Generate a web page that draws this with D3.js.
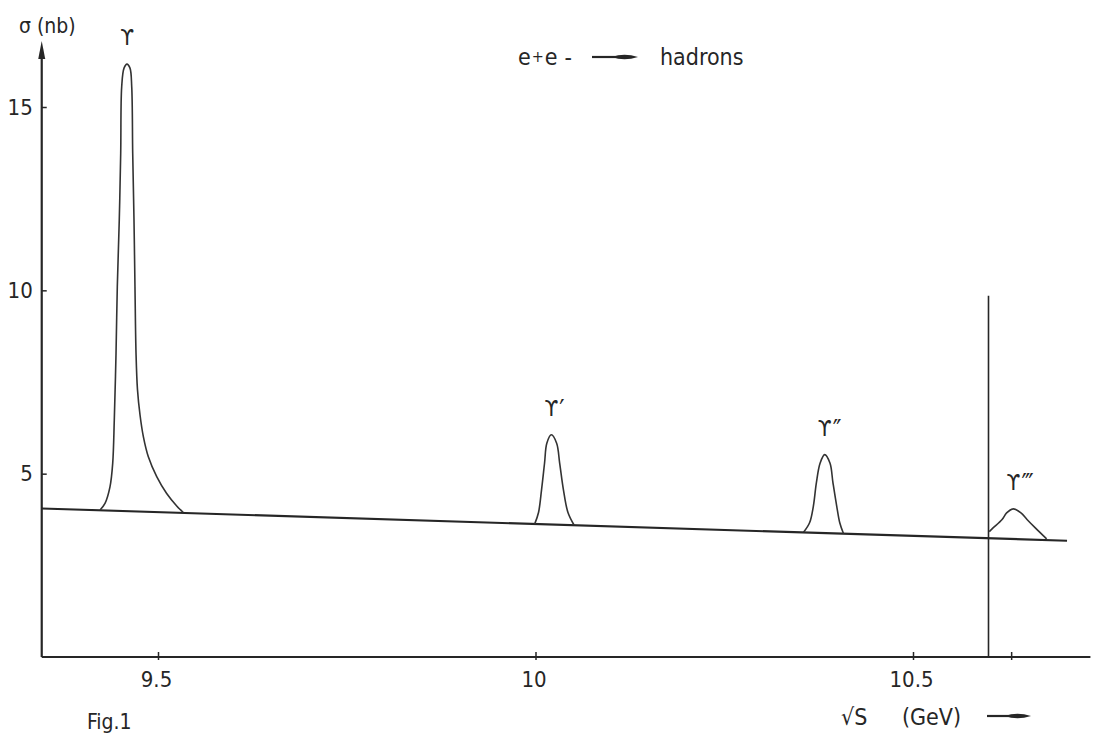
<!DOCTYPE html>
<html>
<head>
<meta charset="utf-8">
<script src="https://cdn.jsdelivr.net/npm/d3@7"></script>
<style>
  body { margin: 0; background: #fff; }
  svg text { font-family: "DejaVu Sans Condensed", "DejaVu Sans", sans-serif; font-stretch: condensed; fill: #262626; }
</style>
</head>
<body>
<div id="chart"></div>
<script>
// energy sqrt(s) in GeV, cross section in nb
var xTicks = [9.5, 10, 10.5, 10.63];
var xTickLabels = ["9.5", "10", "10.5", ""];
var yTicks = [5, 10, 15];

var axisStartE = 9.346, axisEndE = 10.735, axisTopSigma = 16.8;

// non-resonant continuum (straight line)
var continuum = [[9.346, 4.05], [10.704, 3.17]];

// resonance curves [E, sigma]
var upsilon1S = [[9.4232, 4.01], [9.4298, 4.19], [9.4364, 4.64], [9.4400, 5.28], [9.4421, 6.46],
  [9.4444, 8.28], [9.4461, 10.10], [9.4487, 11.92], [9.4506, 13.74], [9.4519, 15.55],
  [9.4550, 16.06], [9.4589, 16.17], [9.4629, 16.06], [9.4652, 15.55], [9.4665, 13.74],
  [9.4682, 11.92], [9.4695, 10.10], [9.4709, 8.28], [9.4728, 7.30], [9.4762, 6.60],
  [9.4806, 6.01], [9.4872, 5.46], [9.4983, 4.92], [9.5115, 4.46], [9.5248, 4.12], [9.5335, 3.94]];
var upsilon2S = [[9.999, 3.63], [10.004, 3.94], [10.008, 4.56], [10.012, 5.29], [10.015, 5.83],
  [10.021, 6.06], [10.028, 5.83], [10.032, 5.29], [10.037, 4.56], [10.043, 3.94], [10.051, 3.60]];
var upsilon3S = [[10.355, 3.40], [10.363, 3.66], [10.368, 4.11], [10.372, 4.75], [10.377, 5.29],
  [10.383, 5.52], [10.390, 5.29], [10.394, 4.75], [10.399, 4.11], [10.403, 3.66], [10.408, 3.36]];
var upsilon4S = [[10.601, 3.42], [10.606, 3.52], [10.618, 3.75], [10.624, 3.93], [10.633, 4.04],
  [10.643, 3.93], [10.651, 3.75], [10.662, 3.52], [10.677, 3.22]];

var peakNames = ["ϒ", "ϒ", "ϒ", "ϒ"];
var peakPrimes = ["", "′", "″", "‴"];
var peakMass = [9.459, 10.021, 10.383, 10.633];
var peakTop = [16.17, 6.06, 5.52, 4.04];

// B-Bbar threshold marker
var thresholdE = 10.6, thresholdTop = 9.85;

var width = 1093, height = 738;
var svg = d3.select("#chart").append("svg")
  .attr("width", width).attr("height", height);

var x = d3.scaleLinear().domain([9.5, 10.5]).range([158, 913]);
var y = d3.scaleLinear().domain([0, 15]).range([657, 107]);

var ink = "#262626";

// x axis
var xAxis = svg.append("g")
  .attr("transform", "translate(0," + y(0) + ")")
  .call(d3.axisBottom(x).tickValues(xTicks)
    .tickFormat(function(d, i) { return xTickLabels[i]; })
    .tickSizeOuter(0));
xAxis.select(".domain").remove();
xAxis.selectAll(".tick line").attr("y1", -5).attr("y2", 3).attr("stroke", ink).attr("stroke-width", 1.5);
xAxis.selectAll(".tick text").attr("y", 14).attr("x", -2).attr("font-size", 22).attr("fill", ink)
  .style("font-family", "DejaVu Sans Condensed, DejaVu Sans, sans-serif");
svg.append("line")
  .attr("x1", x(axisStartE)).attr("x2", x(axisEndE))
  .attr("y1", y(0)).attr("y2", y(0))
  .attr("stroke", ink).attr("stroke-width", 2.2);

// y axis
var yAxis = svg.append("g")
  .attr("transform", "translate(" + x(axisStartE) + ",0)")
  .call(d3.axisLeft(y).tickValues(yTicks).tickSizeInner(-5).tickSizeOuter(0).tickPadding(9));
yAxis.select(".domain").remove();
yAxis.selectAll(".tick line").attr("stroke", ink).attr("stroke-width", 1.5);
yAxis.selectAll(".tick text").attr("font-size", 22).attr("fill", ink)
  .style("font-family", "DejaVu Sans Condensed, DejaVu Sans, sans-serif");
svg.append("line")
  .attr("x1", x(axisStartE)).attr("x2", x(axisStartE))
  .attr("y1", y(0)).attr("y2", y(axisTopSigma) + 10)
  .attr("stroke", ink).attr("stroke-width", 2.2);
svg.append("path")
  .attr("d", "M" + x(axisStartE) + "," + y(axisTopSigma) +
    " l-3.5,18 l7,0 Z")
  .attr("fill", ink);

// continuum
var line = d3.line()
  .x(function(d) { return x(d[0]); })
  .y(function(d) { return y(d[1]); });
svg.append("path").datum(continuum)
  .attr("d", line).attr("fill", "none")
  .attr("stroke", ink).attr("stroke-width", 2.2);

// resonances
var curve = d3.line()
  .x(function(d) { return x(d[0]); })
  .y(function(d) { return y(d[1]); })
  .curve(d3.curveCatmullRom.alpha(0.5));
[upsilon1S, upsilon2S, upsilon3S, upsilon4S].forEach(function(p) {
  svg.append("path").datum(p)
    .attr("d", curve).attr("fill", "none")
    .attr("stroke", "#333").attr("stroke-width", 1.6);
});

// threshold line
svg.append("line")
  .attr("x1", x(thresholdE)).attr("x2", x(thresholdE))
  .attr("y1", y(0)).attr("y2", y(thresholdTop))
  .attr("stroke", ink).attr("stroke-width", 1.6);

// peak labels
peakMass.forEach(function(m, i) {
  svg.append("text")
    .attr("x", x(m)).attr("y", y(peakTop[i]) - 19)
    .attr("text-anchor", "middle").attr("font-size", 22)
    .text(peakNames[i]);
  svg.append("text")
    .attr("x", x(m) + 8).attr("y", y(peakTop[i]) - 16)
    .attr("font-size", 26).attr("letter-spacing", -3)
    .text(peakPrimes[i]);
});

// texts
svg.append("text").attr("x", 19).attr("y", 33).attr("font-size", 21).text("σ (nb)");

var reac = svg.append("text").attr("x", 518).attr("y", 65).attr("font-size", 23);
reac.append("tspan").text("e");
reac.append("tspan").attr("font-size", 16).attr("dy", -3).attr("dx", 1).text("+");
reac.append("tspan").attr("dy", 3).attr("dx", 1).text("e");
reac.append("tspan").attr("dx", 7).text("-");
svg.append("text").attr("x", 660).attr("y", 65).attr("font-size", 23).text("hadrons");

function arrow(x0, x1, yy) {
  svg.append("line").attr("x1", x0).attr("x2", x1 - 14).attr("y1", yy).attr("y2", yy)
    .attr("stroke", ink).attr("stroke-width", 2.2);
  svg.append("path")
    .attr("d", "M" + (x1 - 26) + "," + yy + " Q" + (x1 - 14) + "," + (yy - 4.5) + " " + x1 + "," + yy +
      " Q" + (x1 - 14) + "," + (yy + 4.5) + " " + (x1 - 26) + "," + yy + " Z")
    .attr("fill", ink);
}
arrow(592, 638, 57);

svg.append("text").attr("x", 87).attr("y", 729).attr("font-size", 21).text("Fig.1");
svg.append("text").attr("x", 841).attr("y", 725).attr("font-size", 23).text("√S");
svg.append("text").attr("x", 902).attr("y", 725).attr("font-size", 23).text("(GeV)");
arrow(987, 1031, 716);
</script>
</body>
</html>
